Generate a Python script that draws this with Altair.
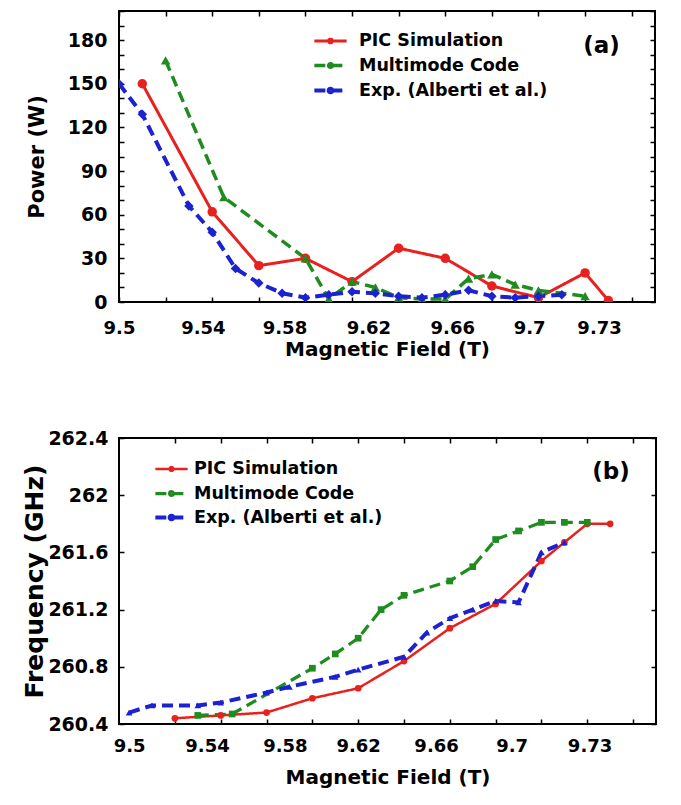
import altair as alt
import pandas as pd

SERIES = ["PIC Simulation", "Multimode Code", "Exp. (Alberti et al.)"]
COLORS = ["#e8201e", "#1f8c1f", "#1c22d0"]
FONT = "DejaVu Sans"

# ---------------- panel (a): Power ----------------
a_pic_x = [9.51, 9.54, 9.56, 9.58, 9.60, 9.62, 9.64, 9.66, 9.68, 9.70, 9.71]
a_pic_y = [150, 62, 25, 30, 14, 37, 30, 11, 3, 20, 1]
a_mm_x = [9.52, 9.545, 9.58, 9.59, 9.60, 9.61, 9.62, 9.63, 9.64, 9.65, 9.66, 9.67, 9.68, 9.70]
a_mm_y = [166, 72, 30, 2, 14, 10, 3, 2, 2, 16, 19, 12, 8, 4]
a_exp_x = [9.50, 9.51, 9.53, 9.54, 9.55, 9.56, 9.57, 9.58, 9.59, 9.60, 9.61, 9.62, 9.63,
           9.64, 9.65, 9.66, 9.67, 9.68, 9.69]
a_exp_y = [150, 129, 66, 48, 23, 13, 6, 3, 5, 7, 6, 4, 3, 5, 8, 4, 3, 4, 5]

# ---------------- panel (b): Frequency ----------------
b_pic_x = [9.52, 9.54, 9.56, 9.58, 9.60, 9.62, 9.64, 9.66, 9.68, 9.69, 9.70, 9.71]
b_pic_y = [260.44, 260.46, 260.48, 260.58, 260.65, 260.84, 261.07, 261.24, 261.54,
           261.67, 261.80, 261.80]
b_mm_x = [9.53, 9.545, 9.58, 9.59, 9.60, 9.61, 9.62, 9.64, 9.65, 9.66, 9.67, 9.68, 9.69, 9.70]
b_mm_y = [260.46, 260.47, 260.79, 260.89, 261.0, 261.2, 261.3, 261.4, 261.5, 261.69,
          261.75, 261.81, 261.81, 261.81]
b_exp_x = [9.50, 9.51, 9.53, 9.54, 9.56, 9.57, 9.59, 9.60, 9.62, 9.63, 9.64, 9.65, 9.66,
           9.67, 9.68, 9.69]
b_exp_y = [260.48, 260.53, 260.53, 260.55, 260.62, 260.66, 260.73, 260.78, 260.87,
           261.04, 261.14, 261.20, 261.26, 261.25, 261.60, 261.67]

# ---------------- axes ----------------
a_xdomain = [9.5, 9.73]
b_xdomain = [9.4956, 9.73]
a_xminor = [9.50, 9.52, 9.54, 9.56, 9.58, 9.60, 9.62, 9.64, 9.66, 9.68, 9.70, 9.72]
b_xminor = [9.52, 9.54, 9.56, 9.58, 9.60, 9.62, 9.64, 9.66, 9.68, 9.70, 9.72]
X_LABELS = ["9.5", "9.54", "9.58", "9.62", "9.66", "9.7", "9.73"]
a_xlabel_pos = [9.5, 9.536, 9.571, 9.607, 9.643, 9.676, 9.706]
b_xlabel_pos = [9.5, 9.534, 9.568, 9.600, 9.634, 9.667, 9.701]

a_ydomain = [0, 200]
a_ylabel_vals = [0, 30, 60, 90, 120, 150, 180]
a_ylabels = ["0", "30", "60", "90", "120", "150", "180"]
a_yminor = [0, 10, 20, 30, 40, 50, 60, 70, 80, 90, 100, 110, 120, 130, 140, 150, 160, 170,
            180, 190, 200]

b_ydomain = [260.4, 262.4]
b_ylabel_vals = [260.4, 260.8, 261.2, 261.6, 262.0, 262.4]
b_ylabels = ["260.4", "260.8", "261.2", "261.6", "262", "262.4"]


def label_expr(positions, labels):
    expr = "''"
    for p, l in zip(reversed(positions), reversed(labels)):
        expr = f"abs(datum.value - {p}) < 0.0005 ? '{l}' : ({expr})"
    return expr


def make_df(xs_list, ys_list):
    rows = []
    for name, xs, ys in zip(SERIES, xs_list, ys_list):
        for xv, yv in zip(xs, ys):
            rows.append({"series": name, "x": xv, "y": yv})
    return pd.DataFrame(rows)


def tick_axis(orient, values):
    return alt.Axis(orient=orient, values=values, labels=False, ticks=True, tickSize=5,
                    offset=-5, tickWidth=1.5, tickColor="black", domain=False, grid=False,
                    title=None)


def panel(df, xdom, xminor, ydom, ylab_vals, ylabels, yminor, xlab_pos, ytitle, ytitle_size,
          ytitle_pad, ylab_pad, xlab_pad, xtitle_pad, widths, shapes, msize,
          legend_x, legend_y, label_off, letter, letter_dx, letter_dy, w, h):
    xs = alt.Scale(domain=xdom, nice=False, zero=False)
    ys = alt.Scale(domain=ydom, nice=False, zero=False)
    leg = alt.Legend(
        orient="none", legendX=legend_x, legendY=legend_y, title=None,
        symbolType="M0.22,0A0.22,0.22,0,1,1,-0.22,0A0.22,0.22,0,1,1,0.22,0M-1.9,0H1.9",
        symbolSize=289, symbolStrokeWidth=3.5, labelFont=FONT, labelFontSize=17.5,
        labelFontWeight="bold", labelColor="black", labelOffset=label_off, rowPadding=5,
        padding=0, labelLimit=400,
    )
    color_scale = alt.Scale(domain=SERIES, range=COLORS)
    lines = alt.Chart(df).mark_line(clip=True).encode(
        x=alt.X("x:Q", scale=xs, axis=alt.Axis(
            orient="bottom", values=xlab_pos, labelExpr=label_expr(xlab_pos, X_LABELS),
            ticks=False, tickSize=0, domain=False, grid=False, labelPadding=xlab_pad,
            labelFontSize=18, title="Magnetic Field (T)", titleFontSize=20,
            titlePadding=xtitle_pad, labelFlush=False, labelOverlap=False)),
        y=alt.Y("y:Q", scale=ys, axis=alt.Axis(
            orient="left", values=ylab_vals, labelExpr=label_expr(ylab_vals, ylabels),
            ticks=False, tickSize=0, domain=False, grid=False, labelPadding=ylab_pad,
            labelFontSize=19, title=ytitle, titleFontSize=ytitle_size,
            titlePadding=ytitle_pad, labelFlush=False, labelOverlap=False)),
        color=alt.Color("series:N", scale=color_scale, legend=leg),
        strokeDash=alt.StrokeDash("series:N", scale=alt.Scale(
            domain=SERIES, range=[[1, 0], [11, 6], [11, 6]]), legend=leg),
        strokeWidth=alt.StrokeWidth("series:N", scale=alt.Scale(
            domain=SERIES, range=widths), legend=None),
    )
    layers = [lines]
    for i, name in enumerate(SERIES):
        if i == 0:
            xax, yax = tick_axis("top", xminor), tick_axis("right", yminor)
        else:
            xax, yax = None, None
        layers.append(
            alt.Chart(df).transform_filter(alt.datum.series == name).mark_point(
                filled=True, opacity=1, clip=True, color=COLORS[i], shape=shapes[i],
                size=msize,
            ).encode(
                x=alt.X("x:Q", scale=xs, axis=xax),
                y=alt.Y("y:Q", scale=ys, axis=yax),
            )
        )
    layers.append(alt.Chart(df).mark_point(opacity=0).encode(
        x=alt.X("x:Q", scale=xs, axis=tick_axis("bottom", xminor)),
        y=alt.Y("y:Q", scale=ys, axis=tick_axis("left", yminor)),
    ))
    return alt.layer(*layers).resolve_axis(
        x="independent", y="independent"
    ).properties(
        width=w, height=h,
        title=alt.TitleParams(letter, anchor="end", orient="top", offset=0, dy=letter_dy,
                              dx=letter_dx, fontSize=23, font=FONT, fontWeight="bold",
                              color="black"),
    )


df_a = make_df([a_pic_x, a_mm_x, a_exp_x], [a_pic_y, a_mm_y, a_exp_y])
df_b = make_df([b_pic_x, b_mm_x, b_exp_x], [b_pic_y, b_mm_y, b_exp_y])

pa = panel(df_a, a_xdomain, a_xminor, a_ydomain, a_ylabel_vals, a_ylabels, a_yminor,
           a_xlabel_pos, "Power (W)", 21, 20, 12, 17, 2, [3, 4, 4],
           ["circle", "triangle-up", "diamond"], 90, 201, 20, 18, "(a)", -36, 48, 536, 291)
pb = panel(df_b, b_xdomain, b_xminor, b_ydomain, b_ylabel_vals, b_ylabels, b_ylabel_vals,
           b_xlabel_pos, "Frequency (GHz)", 25, 0, 11, 13, 12, [2.5, 4, 4],
           ["circle", "square", "triangle-up"], 45, 42, 21, 12, "(b)", -27, 55, 537, 286)

chart = alt.vconcat(pa, pb, spacing=68, bounds="full").resolve_scale(
    color="independent", strokeDash="independent", strokeWidth="independent"
).resolve_legend(
    color="independent", strokeDash="independent"
).properties(
    padding={"left": 21, "top": 9, "right": 5, "bottom": 5}, background="white"
).configure_view(stroke="black", strokeWidth=2).configure_axis(
    labelFont=FONT, titleFont=FONT, labelFontWeight="bold", titleFontWeight="bold",
    labelColor="black", titleColor="black"
)

chart.save("out.html", embed_options={"renderer": "svg", "actions": False})
